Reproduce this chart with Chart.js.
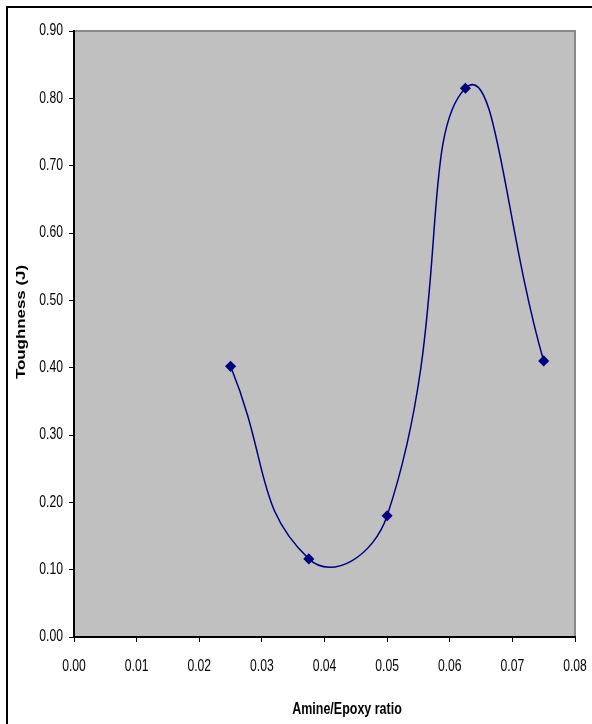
<!DOCTYPE html>
<html>
<head>
<meta charset="utf-8">
<script src="https://cdn.jsdelivr.net/npm/chart.js@4.4.1/dist/chart.umd.min.js"></script>
<style>
  html, body { margin: 0; padding: 0; background: #fff; }
  #wrap { position: relative; width: 592px; height: 724px; }
</style>
</head>
<body>
<div id="wrap"><canvas id="chart"></canvas></div>
<script>
const ratios = [0.025, 0.0375, 0.05, 0.0625, 0.075];
const toughness = [0.402, 0.116, 0.180, 0.815, 0.410];

const xMin = 0, xMax = 0.08, xStep = 0.01;
const yMin = 0, yMax = 0.90, yStep = 0.10;

const xTitle = 'Amine/Epoxy ratio';
const yTitle = 'Toughness (J)';

const sans = "'Liberation Sans', Arial, sans-serif";

// grey plot area + outer frame
const plotBg = {
  id: 'plotBg',
  beforeDraw(chart) {
    const { ctx, chartArea: a } = chart;
    ctx.save();
    ctx.strokeStyle = '#000';
    ctx.lineWidth = 2;
    ctx.strokeRect(7, 7, 700, 800);
    ctx.fillStyle = '#c0c0c0';
    ctx.fillRect(a.left, a.top, a.right - a.left, a.bottom - a.top);
    ctx.strokeStyle = '#8a8a8a';
    ctx.lineWidth = 2;
    ctx.strokeRect(a.left, a.top, a.right - a.left, a.bottom - a.top);
    ctx.restore();
  }
};

// tick labels and titles in a narrow face (squeezed Liberation Sans)
const narrowText = {
  id: 'narrowText',
  afterDraw(chart) {
    const { ctx } = chart;
    const xs = chart.scales.x, ys = chart.scales.y;
    const put = (txt, x, y, sx, rot) => {
      ctx.save();
      ctx.translate(x, y);
      if (rot) ctx.rotate(rot);
      ctx.scale(sx, 1);
      ctx.fillText(txt, 0, 0);
      ctx.restore();
    };
    ctx.save();
    ctx.fillStyle = '#000';
    ctx.textBaseline = 'middle';

    ctx.font = '16px ' + sans;
    ctx.textAlign = 'right';
    ys.ticks.forEach(t => put(t.value.toFixed(2), ys.right - 11, ys.getPixelForValue(t.value), 0.76));
    ctx.textAlign = 'center';
    xs.ticks.forEach(t => put(t.value.toFixed(2), xs.getPixelForValue(t.value), 667, 0.76));

    ctx.font = 'bold 16px ' + sans;
    put(xTitle, 347, 710, 0.78);

    ctx.font = 'bold 13px ' + sans;
    put(yTitle, 21, 322, 1.3, -Math.PI / 2);
    ctx.restore();
  }
};

new Chart(document.getElementById('chart'), {
  type: 'scatter',
  data: {
    datasets: [{
      data: ratios.map((x, i) => ({ x, y: toughness[i] })),
      showLine: true,
      tension: 0.5,
      borderColor: '#000080',
      borderWidth: 1.5,
      pointStyle: 'rectRot',
      pointRadius: 4.5,
      pointBackgroundColor: '#000080',
      pointBorderColor: '#000080'
    }]
  },
  options: {
    responsive: true,
    maintainAspectRatio: false,
    animation: false,
    layout: { padding: { left: 0, top: 31, right: 17, bottom: 0 } },
    plugins: { legend: { display: false }, tooltip: { enabled: false } },
    scales: {
      x: {
        type: 'linear',
        min: xMin,
        max: xMax,
        afterFit(scale) {
          scale.height = 87;
          scale.paddingLeft = 0;
          scale.paddingRight = 0;
        },
        ticks: { stepSize: xStep, display: false },
        grid: { drawOnChartArea: false, tickLength: 5, tickColor: '#000', lineWidth: 1 },
        border: { color: '#000', width: 2 }
      },
      y: {
        type: 'linear',
        min: yMin,
        max: yMax,
        afterFit(scale) {
          scale.width = 74;
          scale.paddingTop = 0;
          scale.paddingBottom = 0;
        },
        ticks: { stepSize: yStep, display: false },
        grid: { drawOnChartArea: false, tickLength: 5, tickColor: '#000', lineWidth: 1 },
        border: { color: '#000', width: 2 }
      }
    }
  },
  plugins: [plotBg, narrowText]
});
</script>
</body>
</html>
